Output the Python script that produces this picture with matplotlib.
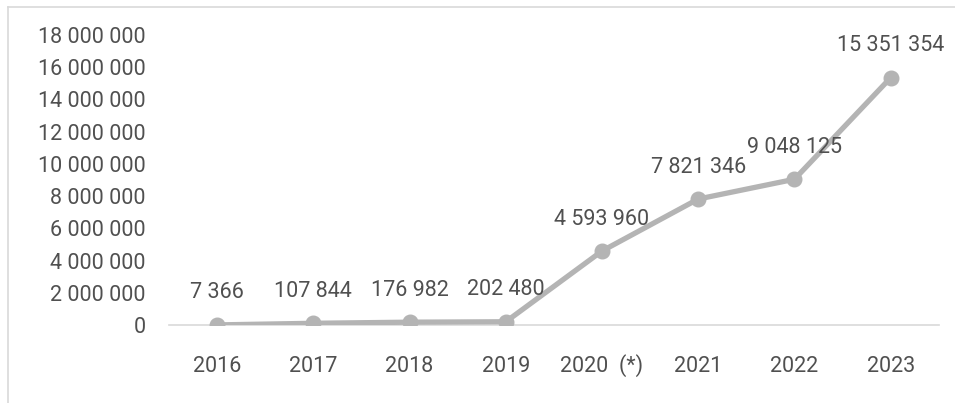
import matplotlib.pyplot as plt
from matplotlib.lines import Line2D
from matplotlib.ticker import FuncFormatter, MultipleLocator

years = ['2016', '2017', '2018', '2019', '2020  (*)', '2021', '2022', '2023']
values = [7366, 107844, 176982, 202480, 4593960, 7821346, 9048125, 15351354]

plt.rcParams['font.family'] = ['Roboto', 'DejaVu Sans']

line_color = '#B4B4B4'
text_color = '#505050'
grid_color = '#D9D9D9'


def spaced(v, pos=None):
    return f'{v:,.0f}'.replace(',', ' ')


fig = plt.figure(figsize=(9.55, 4.03), dpi=100)
ax = fig.add_axes([0.177, 0.1935, 0.806, 0.7195])

x = range(len(years))
ax.plot(x, values, color=line_color, linewidth=3.8, marker='o',
        markersize=10.5, solid_capstyle='round', zorder=3)

for xi, v in zip(x, values):
    ax.annotate(spaced(v), (xi, v), xytext=(0, 23), textcoords='offset points',
                ha='center', va='center', fontsize=15.5, color=text_color)

ax.set_xlim(-0.5, len(years) - 0.5)
ax.set_ylim(0, 18000000)
ax.yaxis.set_major_locator(MultipleLocator(2000000))
ax.yaxis.set_major_formatter(FuncFormatter(spaced))
ax.set_xticks(list(x))
ax.set_xticklabels(years)

for s in ['top', 'right', 'left']:
    ax.spines[s].set_visible(False)
ax.spines['bottom'].set_color(grid_color)
ax.spines['bottom'].set_linewidth(1.2)
ax.spines['bottom'].set_zorder(1)

ax.tick_params(axis='both', length=0, labelsize=15.5, labelcolor=text_color)
ax.tick_params(axis='y', pad=17)
ax.tick_params(axis='x', pad=34)
for lbl in ax.get_xticklabels():
    lbl.set_verticalalignment('baseline')

# outer chart border (top and left visible)
fig.add_artist(Line2D([0.0084, 1.0], [0.9826, 0.9826], transform=fig.transFigure,
                      color=grid_color, linewidth=1.2))
fig.add_artist(Line2D([0.0084, 0.0084], [0.0, 0.9826], transform=fig.transFigure,
                      color=grid_color, linewidth=1.2))

fig.savefig('out.png', dpi=100)
